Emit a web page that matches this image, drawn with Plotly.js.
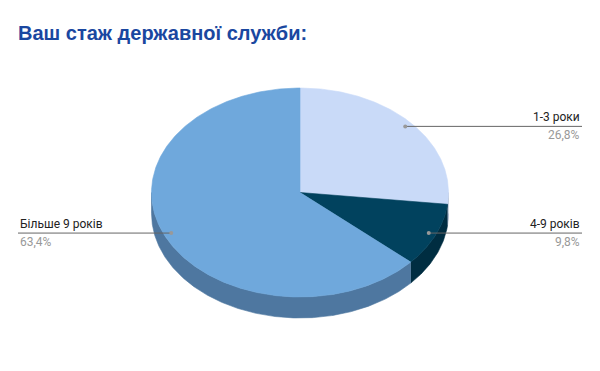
<!DOCTYPE html>
<html>
<head>
<meta charset="utf-8">
<script src="https://cdn.plot.ly/plotly-3.0.1.min.js"></script>
<style>html,body{margin:0;padding:0;background:#fff;}#chart{width:600px;height:371px;}</style>
</head>
<body>
<div id="chart"></div>
<script>
const categories = ['1-3 роки', '4-9 років', 'Більше 9 років'];
const values = [26.8, 9.8, 63.4];
const percentLabels = ['26,8%', '9,8%', '63,4%'];
const topColors = ['#c9daf8', '#01425e', '#6fa8dc'];
const sideColors = ['#9aa9c2', '#002d41', '#4e77a0'];

// geometry of the tilted pie (in pixel-mapped axis units)
const cx = 300, cy = 192.5, rx = 148.5, ry = 104.5, depth = 21, labelFrac = 0.95;
const total = values.reduce((a, b) => a + b, 0);
const pt = (deg, f, dy) => {
  const t = deg * Math.PI / 180;
  return [cx + rx * f * Math.sin(t), cy - ry * f * Math.cos(t) + (dy || 0)];
};
const arc = (a1, a2, dy) => {
  const xs = [], ys = [];
  const n = Math.max(2, Math.ceil(Math.abs(a2 - a1) / 0.5));
  for (let i = 0; i <= n; i++) {
    const p = pt(a1 + (a2 - a1) * i / n, 1, dy);
    xs.push(p[0]); ys.push(p[1]);
  }
  return [xs, ys];
};

const sides = [];
const tops = [];
const leaders = [];
const annotations = [];
let acc = 0;
values.forEach((v, i) => {
  const a1 = acc / total * 360, a2 = (acc + v) / total * 360;
  acc += v;
  // side (front half only: 90..270 deg)
  const s1 = Math.max(a1, 90), s2 = Math.min(a2, 270);
  if (s2 > s1) {
    const [tx, ty] = arc(s1, s2, 0);
    const [bx, by] = arc(s2, s1, depth);
    sides.push({
      type: 'scatter', mode: 'lines', fill: 'toself',
      x: tx.concat(bx), y: ty.concat(by),
      fillcolor: sideColors[i], line: {width: 0.6, color: sideColors[i]},
      hoverinfo: 'skip'
    });
  }
  // top face
  const [ax, ay] = arc(a1, a2, 0);
  tops.push({
    type: 'scatter', mode: 'lines', fill: 'toself',
    x: [cx].concat(ax, [cx]), y: [cy].concat(ay, [cy]),
    fillcolor: topColors[i], line: {width: 0.6, color: topColors[i]},
    hoverinfo: 'skip'
  });
  // label anchor
  const mid = (a1 + a2) / 2;
  const d = pt(mid, labelFrac, 0);
  const right = d[0] >= cx;
  const ex = right ? 582 : 18;
  leaders.push({
    type: 'scatter', mode: 'lines', x: [d[0], ex], y: [d[1], d[1]],
    line: {color: '#666666', width: 1}, hoverinfo: 'skip'
  });
  leaders.push({
    type: 'scatter', mode: 'markers', x: [d[0]], y: [d[1]],
    marker: {color: '#999999', size: 4}, hoverinfo: 'skip'
  });
  annotations.push({
    x: ex, y: d[1], xref: 'x', yref: 'y', text: categories[i], showarrow: false,
    xanchor: right ? 'right' : 'left', yanchor: 'bottom', yshift: 0,
    font: {family: 'Roboto, Arial, sans-serif', size: 12, color: '#222222'}
  });
  annotations.push({
    x: ex, y: d[1], xref: 'x', yref: 'y', text: percentLabels[i], showarrow: false,
    xanchor: right ? 'right' : 'left', yanchor: 'top', yshift: 0,
    font: {family: 'Roboto, Arial, sans-serif', size: 12, color: '#999999'}
  });
});

const data = sides.concat(tops, leaders);

const layout = {
  width: 600, height: 371,
  margin: {l: 0, r: 0, t: 0, b: 0},
  paper_bgcolor: '#ffffff', plot_bgcolor: '#ffffff',
  showlegend: false,
  hovermode: false,
  title: {
    text: '<b>Ваш стаж державної служби:</b>',
    x: 18 / 600, xanchor: 'left', xref: 'paper',
    y: 1 - 33 / 371, yanchor: 'middle', yref: 'paper',
    font: {family: 'Liberation Sans, Arial, sans-serif', size: 20, color: '#1a47a0'}
  },
  xaxis: {range: [0, 600], visible: false, fixedrange: true},
  yaxis: {range: [371, 0], visible: false, fixedrange: true},
  annotations: annotations
};

Plotly.newPlot('chart', data, layout, {staticPlot: true, displayModeBar: false});
</script>
</body>
</html>
